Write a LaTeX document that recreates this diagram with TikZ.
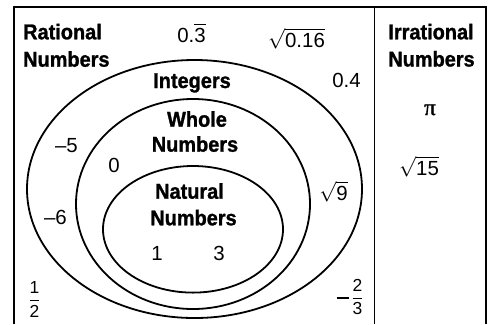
\RequirePackage{fix-cm}
\documentclass[tikz,border=0pt]{standalone}
\usepackage{amsmath}
\usepackage{fontspec}
\setmainfont{Liberation Sans}
\newfontfamily\heavyfont{Liberation Sans Bold}[FakeStretch=0.93, RawFeature={embolden=1.2}]
\newfontfamily\serfont{Liberation Serif}[RawFeature={embolden=1.5}]
\begin{document}
\begin{tikzpicture}[x=1bp,y=-1bp,
  lbl/.style={font=\fontsize{21.5}{24}\heavyfont, inner sep=0pt, anchor=base},
  num/.style={font=\fontsize{20.5}{24}\selectfont, inner sep=0pt, anchor=base},
  frc/.style={font=\fontsize{17.5}{18}\selectfont, inner sep=0pt},
  frame/.style={line width=1.8bp},
  setline/.style={line width=1.8bp}]
\useasboundingbox (0,0) rectangle (490,324);
\fill[white] (0,0) rectangle (490,324);
\draw[frame] (14,324) -- (14,7) -- (486,7) -- (486,324);
\draw[frame] (374.5,7) -- (374.5,324);
\draw[setline] (194.5,189) ellipse [x radius=167.5bp, y radius=129bp];
\draw[setline] (193,204) ellipse [x radius=117bp, y radius=105bp];
\draw[setline] (193,229.3) ellipse [x radius=90bp, y radius=63.3bp];
% labels
\node[lbl, anchor=base west] (rat1) at (23,39.3) {Rational};
\node[lbl, anchor=base west] (rat2) at (23,66.7) {Numbers};
\node[lbl] (irr1) at (431,39.3) {Irrational};
\node[lbl] (irr2) at (431.5,66.5) {Numbers};
\node[lbl] (int) at (192,88) {Integers};
\node[lbl] (who1) at (197,126.7) {Whole};
\node[lbl] (who2) at (195,151.7) {Numbers};
\node[lbl] (nat1) at (189.5,198.7) {Natural};
\node[lbl] (nat2) at (193.5,225.3) {Numbers};
% numbers
\node[num] (rep) at (191.5,42) {0.$\overline{\mbox{3}}$};
\node[num] (sq16) at (296.5,47) {$\sqrt{\mbox{0.16}}$};
\node[num] (n04) at (346.5,87) {0.4};
\node[num] (m5) at (66.5,152) {–5};
\node[num] (z) at (114,172) {0};
\node[num] (m6) at (55.5,224) {–6};
\node[num] (sq9) at (333.5,200) {$\sqrt{\mbox{9}}$};
\node[num] (one) at (157,260) {1};
\node[num] (three) at (219,260) {3};
\node[num, font=\fontsize{23}{24}\serfont] (pi) at (430,115) {π};
\node[num] (sq15) at (419,175) {$\sqrt{\mbox{15}}$};
\node[frc] (half) at (34.5,299.3) {$\genfrac{}{}{0.9pt}{0}{\mbox{1}}{\mbox{2}}$};
\node[frc] (mtt) at (350,297) {$\rule[0.22em]{12bp}{1.6bp}\,\genfrac{}{}{0.9pt}{0}{\mbox{2}}{\mbox{3}}$};
\end{tikzpicture}
\end{document}
